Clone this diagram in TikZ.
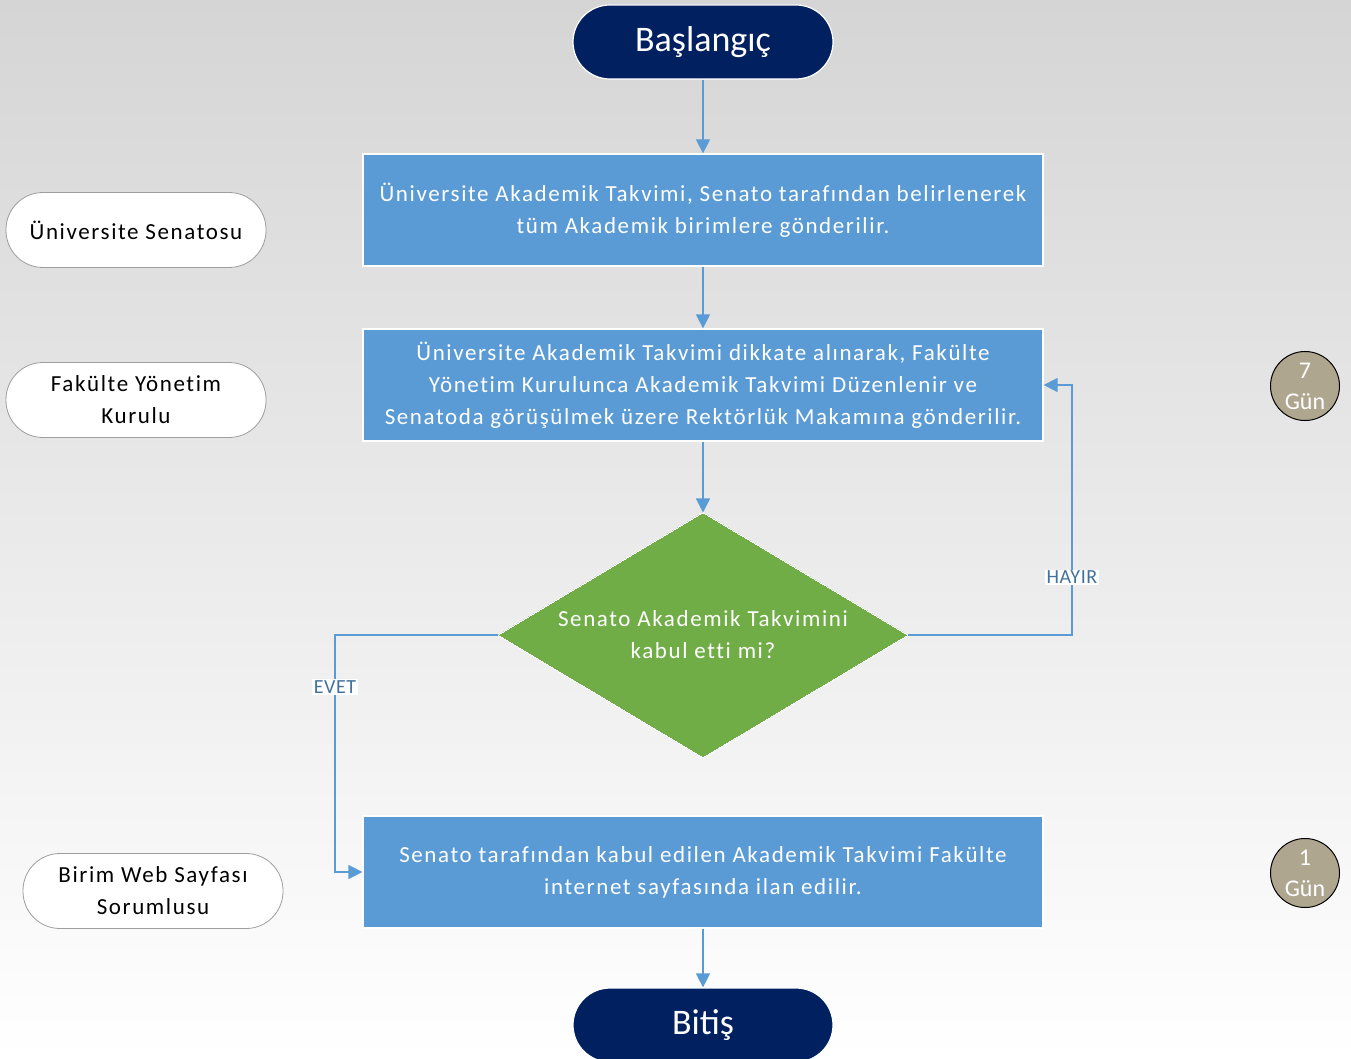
\documentclass[tikz,border=0pt]{standalone}
\usepackage{fontspec}
\setmainfont{Carlito}
\newfontfamily\boxfont{Carlito}[LetterSpace=7,Ligatures=NoCommon]
\newfontfamily\lblfont{Carlito}[LetterSpace=3,Ligatures=NoCommon]
\usetikzlibrary{shapes.geometric,arrows.meta}
\definecolor{navy}{HTML}{002060}
\definecolor{stepblue}{HTML}{5B9BD5}
\definecolor{decgreen}{HTML}{70AD47}
\definecolor{lblblue}{HTML}{41719C}
\definecolor{tan}{HTML}{AEA68F}
\definecolor{bgtop}{HTML}{D5D5D5}
\begin{document}
\begin{tikzpicture}[x=1pt,y=-1pt,
  terminal/.style={draw=white,line width=1.2pt,fill=navy,text=white,
    minimum width=260pt,minimum height=74pt,rounded corners=37pt,
    font=\fontsize{36}{42}\selectfont},
  stepbox/.style={draw=white,line width=1.2pt,fill=stepblue,text=white,
    minimum width=680pt,minimum height=112pt,align=center,
    font=\boxfont\fontsize{23}{32}\selectfont},
  actor/.style={draw=black!38,line width=0.8pt,fill=white,text=black,
    minimum width=260pt,minimum height=75pt,rounded corners=37pt,align=center,
    font=\boxfont\fontsize{23}{32}\selectfont},
  daybadge/.style={circle,draw=black,line width=1pt,fill=tan,text=white,
    minimum size=69pt,inner sep=0pt,align=center,
    font=\fontsize{24}{31}\selectfont},
  flow/.style={draw=stepblue,line width=1.2pt,-{Triangle[length=14pt,width=14pt]}},
  lbl/.style={fill=white,text=lblblue,inner sep=1.5pt,font=\lblfont\fontsize{20}{22}\selectfont}]
  % background
  \shade[top color=bgtop,bottom color=white] (0,0) rectangle (1351,1059);
  \useasboundingbox (0,0) rectangle (1351,1059);

  % main flow
  \node[terminal] (start) at (703,42) {Başlangıç};
  \node[stepbox] (s1) at (703,210)
    {Üniversite Akademik Takvimi, Senato tarafından belirlenerek\\tüm Akademik birimlere gönderilir.};
  \node[stepbox] (s2) at (703,385)
    {Üniversite Akademik Takvimi dikkate alınarak, Fakülte\\Yönetim Kurulunca Akademik Takvimi Düzenlenir ve\\Senatoda görüşülmek üzere Rektörlük Makamına gönderilir.};
  \node[diamond,draw=white,line width=0pt,fill=decgreen,minimum width=410pt,
    minimum height=245pt,inner sep=0pt] (dec) at (703,635) {};
  \node[text=white,align=center,font=\boxfont\fontsize{23}{32}\selectfont] (dectext) at (dec.center)
    {Senato Akademik Takvimini\\kabul etti mi?};
  \node[stepbox] (s3) at (703,872)
    {Senato tarafından kabul edilen Akademik Takvimi Fakülte\\internet sayfasında ilan edilir.};
  \node[terminal] (end) at (703,1025) {Bitiş};

  % responsible units
  \node[actor] (a1) at (136,230) {Üniversite Senatosu};
  \node[actor] (a2) at (136,400) {Fakülte Yönetim\\Kurulu};
  \node[actor] (a3) at (153,891) {Birim Web Sayfası\\Sorumlusu};

  % durations
  \node[daybadge] (d1) at (1305,386) {7\\Gün};
  \node[daybadge] (d2) at (1305,873) {1\\Gün};

  % connectors
  \coordinate (hx) at (1072,0);
  \coordinate (ex) at (335,0);
  \draw[flow] (start) -- (s1);
  \draw[flow] (s1) -- (s2);
  \draw[flow] (s2) -- (dec);
  \draw[flow] (dec.east) -- (dec.east -| hx)
    -- node[lbl,pos=0.23] (hayir) {HAYIR} (s2.east -| hx) -- (s2.east);
  \draw[flow] (dec.west) -- (dec.west -| ex)
    -- node[lbl,pos=0.22] (evet) {EVET} (s3.west -| ex) -- (s3.west);
  \draw[flow] (s3) -- (end);
\end{tikzpicture}
\end{document}
